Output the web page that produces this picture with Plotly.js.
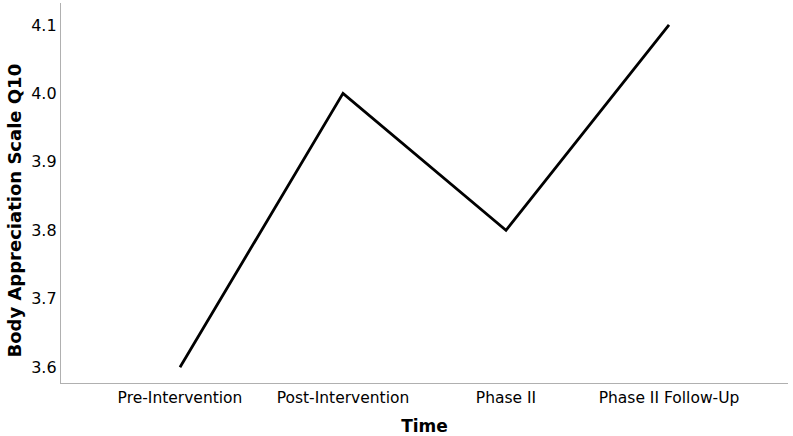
<!DOCTYPE html>
<html>
<head>
<meta charset="utf-8">
<script src="https://cdn.plot.ly/plotly-3.0.1.min.js"></script>
<style>
  html, body { margin: 0; padding: 0; background: #fff; }
  #plotArea { width: 793px; height: 436px; }
</style>
</head>
<body>
<div id="plotArea"></div>
<script>
var timePoints = ["Pre-Intervention", "Post-Intervention", "Phase II", "Phase II Follow-Up"];
var meanScores = [3.60, 4.00, 3.80, 4.10];
var yTicks = [3.6, 3.7, 3.8, 3.9, 4.0, 4.1];

var trace = {
    x: timePoints,
    y: meanScores,
    mode: 'lines',
    type: 'scatter',
    line: {color: '#000000', width: 2.8},
    hoverinfo: 'none'
};

var layout = {
    width: 793,
    height: 436,
    margin: {l: 61, r: 5, t: 3, b: 53},
    paper_bgcolor: '#ffffff',
    plot_bgcolor: '#ffffff',
    showlegend: false,
    font: {family: "DejaVu Sans, sans-serif", size: 15, color: '#000000'},
    xaxis: {
        type: 'category',
        range: [-0.73, 3.73],
        showgrid: false,
        zeroline: false,
        showline: true,
        linecolor: '#b0b0b0',
        linewidth: 1.2,
        ticks: '',
        ticklen: 0,
        tickfont: {size: 15.5},
        title: {text: 'Time', font: {size: 17, weight: 'bold'}, standoff: 14}
    },
    yaxis: {
        range: [3.577, 4.132],
        tickvals: yTicks,
        ticktext: yTicks.map(function(v) { return v.toFixed(1); }),
        showgrid: false,
        zeroline: false,
        showline: true,
        linecolor: '#b0b0b0',
        linewidth: 1.2,
        ticks: '',
        ticklen: 0,
        tickfont: {size: 16}
    },
    // y title placed by hand so it sits a little below centre like the original
    annotations: [{
        text: '<b>Body Appreciation Scale Q10</b>',
        xref: 'paper', yref: 'paper',
        x: -0.064, y: 0.455,
        xanchor: 'center', yanchor: 'middle',
        textangle: -90,
        showarrow: false,
        font: {size: 18, color: '#000000'}
    }]
};

Plotly.newPlot("plotArea", [trace], layout, {staticPlot: true, displayModeBar: false});
</script>
</body>
</html>
